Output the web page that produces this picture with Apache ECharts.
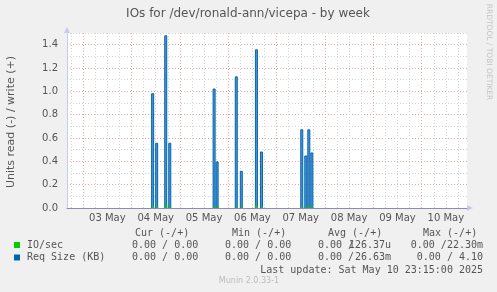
<!DOCTYPE html>
<html><head><meta charset="utf-8">
<script src="https://cdn.jsdelivr.net/npm/echarts@6/dist/echarts.min.js"></script>
<style>html,body{margin:0;padding:0;background:#f0f0f0}#c{width:497px;height:292px}</style>
</head><body><div id="c"></div>
<script>
// ---- data ----
const title = 'IOs for /dev/ronald-ann/vicepa - by week';
const rangeStart = '2025-05-02T16:00:00Z';
const rangeEnd = '2025-05-10T22:30:00Z';
const dayLabels = ['03 May','04 May','05 May','06 May','07 May','08 May','09 May','10 May'];
const dayDates = ['2025-05-03','2025-05-04','2025-05-05','2025-05-06','2025-05-07','2025-05-08','2025-05-09','2025-05-10'];
const spikeTimes = ['2025-05-04T10:00:00Z','2025-05-04T12:00:00Z','2025-05-04T16:30:00Z','2025-05-04T18:30:00Z',
  '2025-05-05T16:30:00Z','2025-05-05T18:00:00Z','2025-05-06T03:30:00Z','2025-05-06T06:00:00Z',
  '2025-05-06T13:30:00Z','2025-05-06T16:00:00Z','2025-05-07T12:00:00Z','2025-05-07T14:00:00Z',
  '2025-05-07T15:30:00Z','2025-05-07T17:00:00Z'];
const reqSize = [0.98,0.555,1.476,0.555,1.02,0.395,1.124,0.315,1.356,0.48,0.67,0.446,0.67,0.472];
const ioSec = [0.012,0.008,0.022,0.008,0.014,0.007,0.015,0.006,0.02,0.008,0.01,0.007,0.01,0.008];
const yTicks = [0,0.2,0.4,0.6,0.8,1.0,1.2,1.4];
const legendRows = [
  {name:'IO/sec', color:'#00cc00', cur:'0.00 / 0.00', min:'0.00 / 0.00', avgA:'0.00 /', avgB:'126.37u', max:'0.00 /22.30m'},
  {name:'Req Size (KB)', color:'#0066b3', cur:'0.00 / 0.00', min:'0.00 / 0.00', avgA:'0.00 /', avgB:'26.63m', max:'0.00 / 4.10'}
];

const H = 3600e3;
const t0 = Date.parse(rangeStart), t1 = Date.parse(rangeEnd);
function spikes(vals){
  const out=[];
  spikeTimes.forEach((s,i)=>{const t=Date.parse(s);
    out.push([t,0],[t,vals[i]],[t+H,vals[i]],[t+H,0],[t+H,null]);});
  return out;
}
const midnights = dayDates.map(d=>Date.parse(d+'T00:00:00Z'));
const noons = midnights.map(m=>m+12*H);
const minorLines=[];
for(let t=midnights[0]-24*H;t<=t1;t+=6*H){ if(t>t0 && t<t1 && ((t-midnights[0])%(24*H))!==0) minorLines.push(t); }

const mono = '"DejaVu Sans Mono", monospace';
const sans = '"DejaVu Sans", sans-serif';
const txt='#555';
const graphics=[
  {type:'text',x:248,y:14,style:{text:title,font:'12px '+sans,fill:txt,textAlign:'center',textVerticalAlign:'middle'}},
  {type:'text',x:11,y:122,rotation:Math.PI/2,style:{text:'Units read (-) / write (+)',font:'11px '+sans,fill:txt,textAlign:'center',textVerticalAlign:'middle'}},
  {type:'text',x:489,y:52,rotation:-Math.PI/2,style:{text:'RRDTOOL / TOBI OETIKER',font:'7.5px '+sans,fill:'#c4c4c4',textAlign:'center',textVerticalAlign:'middle'}},
  {type:'text',x:135,y:233,style:{text:'Cur (-/+)',font:'10px '+mono,fill:txt,textVerticalAlign:'middle'}},
  {type:'text',x:232,y:233,style:{text:'Min (-/+)',font:'10px '+mono,fill:txt,textVerticalAlign:'middle'}},
  {type:'text',x:328,y:233,style:{text:'Avg (-/+)',font:'10px '+mono,fill:txt,textVerticalAlign:'middle'}},
  {type:'text',x:423,y:233,style:{text:'Max (-/+)',font:'10px '+mono,fill:txt,textVerticalAlign:'middle'}},
  {type:'text',x:483,y:270,style:{text:'Last update: Sat May 10 23:15:00 2025',font:'10px '+mono,fill:txt,textAlign:'right',textVerticalAlign:'middle'}},
  {type:'text',x:249,y:281,style:{text:'Munin 2.0.33-1',font:'8px '+sans,fill:'#bbbbbb',textAlign:'center',textVerticalAlign:'middle'}},
  {type:'polygon',shape:{points:[[64,33],[70,33],[67,27]]},style:{fill:'#c8c8f4'}},
  {type:'polygon',shape:{points:[[467,205],[467,211],[473,208]]},style:{fill:'#c8c8f4'}}
];
legendRows.forEach((r,i)=>{
  const y=245+i*12.5;
  graphics.push({type:'rect',shape:{x:14,y:y-3,width:6,height:6},style:{fill:r.color}});
  graphics.push({type:'text',x:27,y:y,style:{text:r.name,font:'10px '+mono,fill:txt,textVerticalAlign:'middle'}});
  graphics.push({type:'text',x:132,y:y,style:{text:r.cur,font:'10px '+mono,fill:txt,textVerticalAlign:'middle'}});
  graphics.push({type:'text',x:225,y:y,style:{text:r.min,font:'10px '+mono,fill:txt,textVerticalAlign:'middle'}});
  graphics.push({type:'text',x:318,y:y,style:{text:r.avgA,font:'10px '+mono,fill:txt,textVerticalAlign:'middle'}});
  graphics.push({type:'text',x:391,y:y,style:{text:r.avgB,font:'10px '+mono,fill:txt,textAlign:'right',textVerticalAlign:'middle'}});
  graphics.push({type:'text',x:483,y:y,style:{text:r.max,font:'10px '+mono,fill:txt,textAlign:'right',textVerticalAlign:'middle'}});
});

const chart = echarts.init(document.getElementById('c'),null,{renderer:'canvas'});
chart.setOption({
  animation:false,
  backgroundColor:'#f0f0f0',
  grid:{left:67,right:30,top:33,bottom:84,show:true,backgroundColor:'#ffffff',borderWidth:0},
  xAxis:{type:'value',min:t0,max:t1,
    axisLine:{lineStyle:{color:'#8c8cae',width:1}},
    axisTick:{show:false},splitLine:{show:false},
    axisLabel:{customValues:noons,margin:5,color:txt,fontFamily:'DejaVu Sans',fontSize:10,
      formatter:v=>{const i=noons.indexOf(v);return i>=0?dayLabels[i]:'';}}},
  yAxis:{type:'value',min:0,max:1.5,interval:0.2,
    axisLine:{show:true,lineStyle:{color:'#c8c8f4'}},axisTick:{show:false},
    axisLabel:{color:txt,fontFamily:'DejaVu Sans',fontSize:10,margin:9,showMaxLabel:false,
      formatter:v=>yTicks.some(t=>Math.abs(t-v)<1e-9)?v.toFixed(1):''},
    splitLine:{lineStyle:{color:'#e8a8a8',type:[1,2]}},
    minorTick:{show:false,splitNumber:2},
    minorSplitLine:{show:true,lineStyle:{color:'#d4d4d4',type:[1,2]}}},
  graphic:graphics,
  series:[
    {type:'line',name:'grid',data:[],silent:true,z:1,
      markLine:{silent:true,z:1,symbol:'none',label:{show:false},animation:false,
        data:[...minorLines.map(t=>({xAxis:t,lineStyle:{color:'#d4d4d4',type:[1,2],width:1}})),
              ...midnights.map(t=>({xAxis:t,lineStyle:{color:'#e8a8a8',type:[1,2],width:1}})),
              {yAxis:1.5,lineStyle:{color:'#d4d4d4',type:[1,2],width:1}}]}},
    {type:'line',name:'Req Size (KB)',data:spikes(reqSize),showSymbol:false,connectNulls:false,
      lineStyle:{color:'#0066b3',width:1},areaStyle:{color:'#4f94d0',opacity:1,origin:'start'},z:3},
    {type:'line',name:'IO/sec',data:spikes(ioSec),showSymbol:false,connectNulls:false,
      lineStyle:{color:'#00cc00',width:1},z:4}
  ]
});
</script></body></html>
